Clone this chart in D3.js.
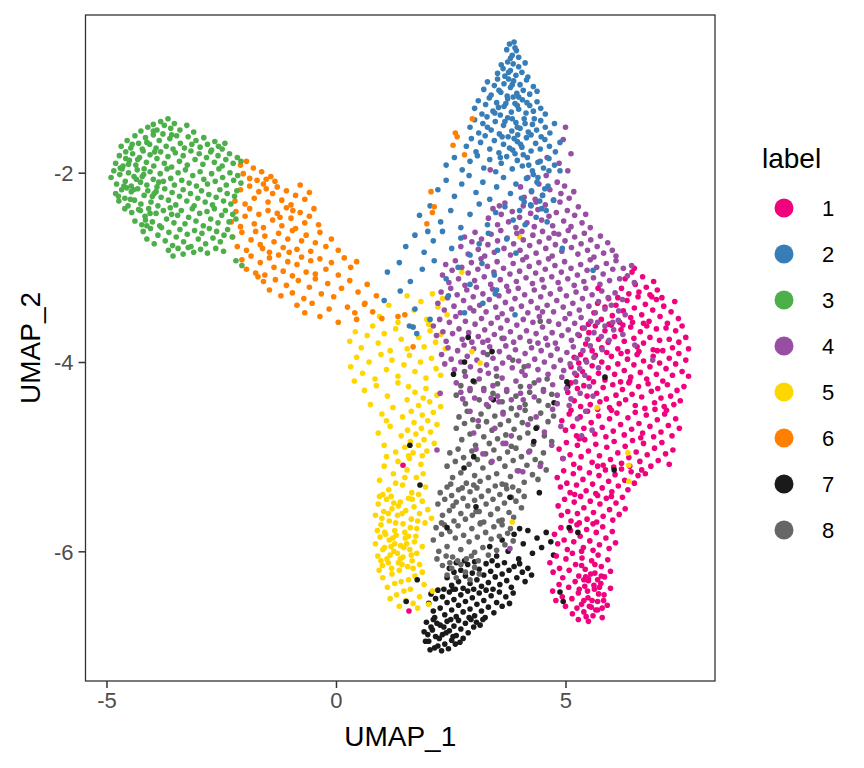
<!DOCTYPE html>
<html>
<head>
<meta charset="utf-8">
<script src="https://cdn.jsdelivr.net/npm/d3@7"></script>
<style>
  body { margin: 0; background: #fff; }
  text { font-family: "Liberation Sans", Arial, sans-serif; }
</style>
</head>
<body>
<div id="chart"></div>
<script>
// UMAP coordinates, one string per cluster label, "x,y" pairs
const pts1 = `6.22,-3.22 6.30,-3.12 6.38,-3.28 6.45,-3.05 6.52,-3.18 6.60,-3.26 6.68,-3.10 6.76,-3.21 6.84,-3.29 6.92,-3.15 7.00,-3.24 6.50,-3.01
5.62,-3.48 5.70,-3.38 5.78,-3.55 5.86,-3.42 5.94,-3.33 6.02,-3.51 6.10,-3.40 6.18,-3.58 6.26,-3.46 6.34,-3.35 6.42,-3.53 6.50,-3.43 6.58,-3.31 6.66,-3.50 6.74,-3.39 6.82,-3.57 6.90,-3.45 6.98,-3.34 7.06,-3.52 7.14,-3.41 7.22,-3.59 7.30,-3.47 7.38,-3.36 7.46,-3.54 6.46,-3.58 6.14,-3.32 6.88,-3.31 7.10,-3.32 5.95,-3.60 6.70,-3.59
5.30,-3.72 5.37,-3.64 5.44,-3.81 5.51,-3.69 5.58,-3.88 5.65,-3.62 5.72,-3.76 5.79,-3.85 5.86,-3.67 5.93,-3.79 6.00,-3.61 6.07,-3.73 6.14,-3.86 6.21,-3.66 6.28,-3.78 6.35,-3.89 6.42,-3.63 6.49,-3.75 6.56,-3.84 6.63,-3.68 6.70,-3.80 6.77,-3.62 6.84,-3.74 6.91,-3.87 6.98,-3.65 7.05,-3.77 7.12,-3.88 7.19,-3.64 7.26,-3.76 7.33,-3.85 7.40,-3.67 7.47,-3.79 7.54,-3.62 7.62,-3.74 7.68,-3.86 6.25,-3.61 6.60,-3.89 7.00,-3.88 5.90,-3.90 5.50,-3.60
5.12,-4.05 5.19,-3.95 5.24,-4.14 5.29,-4.01 5.33,-3.92 5.37,-4.10 5.44,-3.98 5.51,-4.17 5.58,-4.04 5.65,-3.93 5.72,-4.12 5.79,-4.00 5.86,-4.19 5.93,-4.06 6.00,-3.94 6.07,-4.13 6.14,-4.02 6.21,-3.91 6.28,-4.09 6.35,-3.97 6.42,-4.16 6.49,-4.03 6.56,-3.92 6.63,-4.11 6.70,-3.99 6.77,-4.18 6.84,-4.05 6.91,-3.94 6.98,-4.13 7.05,-4.01 7.12,-4.20 7.19,-4.07 7.26,-3.96 7.33,-4.14 7.40,-4.02 7.47,-3.91 7.54,-4.10 7.62,-3.98 7.68,-4.15 6.40,-4.20
5.05,-4.32 5.12,-4.22 5.19,-4.41 5.26,-4.28 5.33,-4.47 5.40,-4.25 5.47,-4.36 5.54,-4.45 5.61,-4.21 5.68,-4.33 5.75,-4.42 5.82,-4.27 5.89,-4.39 5.96,-4.48 6.03,-4.24 6.10,-4.35 6.17,-4.44 6.24,-4.29 6.31,-4.40 6.38,-4.22 6.45,-4.34 6.52,-4.46 6.59,-4.26 6.66,-4.37 6.73,-4.49 6.80,-4.23 6.87,-4.31 6.94,-4.43 7.01,-4.28 7.08,-4.38 7.15,-4.47 7.22,-4.24 7.29,-4.36 7.36,-4.45 7.43,-4.30 7.50,-4.41 7.58,-4.26 6.20,-4.21 6.95,-4.50 5.70,-4.50
4.92,-4.62 5.00,-4.72 5.08,-4.55 5.16,-4.68 5.24,-4.78 5.32,-4.58 5.40,-4.70 5.48,-4.52 5.56,-4.64 5.64,-4.76 5.72,-4.57 5.80,-4.69 5.88,-4.79 5.96,-4.60 6.04,-4.73 6.12,-4.54 6.20,-4.66 6.28,-4.77 6.36,-4.59 6.44,-4.71 6.52,-4.53 6.60,-4.65 6.68,-4.75 6.76,-4.56 6.84,-4.68 6.92,-4.79 7.00,-4.61 7.08,-4.74 7.16,-4.55 7.24,-4.67 7.32,-4.78 7.40,-4.60 7.48,-4.70 6.00,-4.51 6.64,-4.80 5.36,-4.80 7.20,-4.51 5.12,-4.51
4.86,-4.92 4.94,-5.02 5.02,-4.85 5.10,-4.98 5.18,-5.08 5.26,-4.88 5.34,-5.00 5.42,-4.82 5.50,-4.94 5.58,-5.06 5.66,-4.87 5.74,-4.99 5.82,-5.09 5.90,-4.90 5.98,-5.03 6.06,-4.84 6.14,-4.96 6.22,-5.07 6.30,-4.89 6.38,-5.01 6.46,-4.83 6.54,-4.95 6.62,-5.05 6.70,-4.86 6.78,-4.98 6.86,-5.10 6.94,-4.91 7.02,-5.04 7.10,-4.85 7.18,-4.97 7.26,-5.08 7.34,-4.93 5.70,-5.10 6.40,-5.10 5.30,-4.81
4.82,-5.22 4.89,-5.32 4.96,-5.15 5.03,-5.28 5.10,-5.38 5.17,-5.18 5.24,-5.30 5.31,-5.12 5.38,-5.24 5.45,-5.36 5.52,-5.17 5.59,-5.29 5.66,-5.39 5.73,-5.20 5.80,-5.33 5.87,-5.14 5.94,-5.26 6.01,-5.37 6.08,-5.19 6.15,-5.31 6.22,-5.13 6.29,-5.25 6.36,-5.35 6.43,-5.16 6.50,-5.28 6.58,-5.20 6.66,-5.14 6.74,-5.18 5.20,-5.40 6.05,-5.11
4.84,-5.52 4.91,-5.62 4.98,-5.45 5.05,-5.58 5.12,-5.68 5.19,-5.48 5.26,-5.60 5.33,-5.42 5.40,-5.54 5.47,-5.66 5.54,-5.47 5.61,-5.59 5.68,-5.69 5.75,-5.50 5.82,-5.63 5.89,-5.44 5.96,-5.56 6.03,-5.67 6.10,-5.49 6.17,-5.61 6.24,-5.43 6.30,-5.55 5.30,-5.70 5.70,-5.41 6.00,-5.42
4.76,-5.82 4.83,-5.92 4.90,-5.75 4.97,-5.88 5.04,-5.98 5.11,-5.78 5.18,-5.90 5.25,-5.72 5.32,-5.84 5.39,-5.96 5.46,-5.77 5.53,-5.89 5.60,-5.99 5.67,-5.80 5.74,-5.93 5.81,-5.74 5.88,-5.86 5.95,-5.97 6.02,-5.79 6.09,-5.91 5.35,-6.00 5.60,-5.71
4.66,-6.12 4.73,-6.22 4.80,-6.05 4.87,-6.18 4.94,-6.28 5.01,-6.08 5.08,-6.20 5.15,-6.02 5.22,-6.14 5.29,-6.26 5.36,-6.07 5.43,-6.19 5.50,-6.29 5.57,-6.10 5.64,-6.23 5.71,-6.04 5.78,-6.16 5.85,-6.27 5.92,-6.09 5.98,-6.21 5.40,-6.30 5.70,-6.30
4.72,-6.42 4.79,-6.52 4.86,-6.35 4.93,-6.48 5.00,-6.58 5.07,-6.38 5.14,-6.50 5.21,-6.32 5.28,-6.44 5.35,-6.56 5.42,-6.37 5.49,-6.49 5.56,-6.59 5.63,-6.40 5.70,-6.53 5.77,-6.34 5.84,-6.46 5.91,-6.57 5.98,-6.39 5.50,-6.31 5.80,-6.60 5.25,-6.60
5.15,-6.66 5.28,-6.72 5.40,-6.64 5.50,-6.74 5.60,-6.68 5.70,-6.62 5.80,-6.70 5.45,-6.69
5.35,-6.15 5.55,-6.24 5.62,-6.36 5.72,-6.45 5.48,-6.42 5.58,-6.52 5.66,-6.62 5.40,-6.52 5.52,-6.58 5.78,-6.26 5.30,-6.40 5.74,-6.38 5.44,-6.27 5.64,-6.14 5.83,-6.52
1.46,-5.09 1.59,-6.63 5.71,-3.22`;

const pts2 = `3.72,-0.70 3.78,-0.64 3.84,-0.76 3.88,-0.62 3.93,-0.71 3.98,-0.78 3.80,-0.79 3.90,-0.68
3.52,-0.95 3.60,-0.86 3.68,-0.98 3.74,-0.83 3.80,-0.92 3.86,-0.85 3.92,-0.97 3.98,-0.88 4.05,-0.94 4.12,-0.84 4.18,-0.99 3.64,-0.90
3.22,-1.12 3.30,-1.04 3.38,-1.18 3.45,-1.08 3.52,-1.01 3.59,-1.15 3.66,-1.06 3.73,-1.19 3.80,-1.10 3.87,-1.03 3.94,-1.16 4.01,-1.07 4.08,-1.13 4.15,-1.02 4.22,-1.17 4.30,-1.09 4.38,-1.14 3.76,-1.01
3.02,-1.32 3.10,-1.24 3.18,-1.38 3.26,-1.28 3.34,-1.21 3.42,-1.35 3.50,-1.26 3.58,-1.39 3.66,-1.30 3.74,-1.22 3.82,-1.36 3.90,-1.27 3.98,-1.33 4.06,-1.23 4.14,-1.37 4.22,-1.29 4.30,-1.35 4.38,-1.25 4.46,-1.32 4.56,-1.38 3.86,-1.20 3.54,-1.31
2.92,-1.52 3.02,-1.44 3.11,-1.58 3.20,-1.48 3.29,-1.41 3.38,-1.55 3.47,-1.46 3.56,-1.59 3.65,-1.50 3.74,-1.42 3.83,-1.56 3.92,-1.47 4.01,-1.53 4.10,-1.43 4.19,-1.57 4.28,-1.49 4.37,-1.55 4.46,-1.45 4.56,-1.52 4.66,-1.58 4.76,-1.48 3.96,-1.60
2.84,-1.72 2.95,-1.64 3.05,-1.78 3.15,-1.68 3.25,-1.61 3.35,-1.75 3.45,-1.66 3.55,-1.79 3.65,-1.70 3.75,-1.62 3.85,-1.76 3.95,-1.67 4.05,-1.73 4.15,-1.63 4.25,-1.77 4.35,-1.69 4.45,-1.75 4.55,-1.65 4.65,-1.72 4.78,-1.78 4.88,-1.68 3.90,-1.80
2.40,-1.92 2.58,-1.84 2.75,-1.97 2.92,-1.88 3.08,-1.82 3.22,-1.95 3.35,-1.86 3.48,-1.99 3.60,-1.90 3.72,-1.83 3.84,-1.96 3.95,-1.87 4.06,-1.93 4.17,-1.84 4.28,-1.98 4.40,-1.89 4.52,-1.95 4.64,-1.85 4.76,-1.92 4.88,-1.98
2.22,-2.18 2.40,-2.08 2.58,-2.25 2.74,-2.12 2.90,-2.03 3.05,-2.21 3.20,-2.10 3.35,-2.28 3.50,-2.15 3.65,-2.05 3.80,-2.22 3.92,-2.12 4.04,-2.27 4.15,-2.06 4.26,-2.19 4.38,-2.10 4.50,-2.24 4.62,-2.14 4.74,-2.29 4.30,-2.02
1.82,-2.45 2.05,-2.35 2.28,-2.52 2.50,-2.40 2.72,-2.58 2.92,-2.44 3.12,-2.33 3.30,-2.55 3.48,-2.42 3.68,-2.36 3.86,-2.50 4.00,-2.40 4.12,-2.55 4.24,-2.34 4.36,-2.47 4.48,-2.38 4.60,-2.52 4.10,-2.31
1.52,-2.78 1.72,-2.66 1.92,-2.84 2.12,-2.72 2.32,-2.62 2.52,-2.80 2.72,-2.69 2.92,-2.87 3.12,-2.75 3.32,-2.64 3.52,-2.82 3.72,-2.70 3.92,-2.85 2.00,-2.62
1.12,-3.05 1.38,-2.95 1.62,-3.15 1.88,-3.02 2.14,-2.93 2.40,-3.12 2.66,-3.00 2.92,-3.18 3.18,-2.96 3.45,-3.08
1.05,-3.35 1.40,-3.25 1.60,-3.62 1.72,-3.44 2.05,-3.55 2.45,-3.30 2.80,-3.48 3.20,-3.38
5.60,-3.03 4.93,-2.80 3.50,-3.24 3.90,-3.50 1.68,-3.63 1.76,-3.70 3.47,-3.28
3.55,-1.13 3.70,-1.27 3.84,-1.43 3.98,-1.20 4.12,-1.48 4.25,-1.60 3.62,-1.62 3.78,-1.74 3.95,-1.52 4.08,-1.81 4.20,-1.92 3.46,-1.37 3.68,-1.46 3.88,-1.64 4.02,-1.70 4.32,-1.43 4.45,-1.88 4.40,-2.05 4.55,-2.17 4.25,-2.35 4.47,-1.62 3.84,-1.07 3.95,-1.29 4.16,-1.26 3.76,-0.94 3.58,-1.84 3.30,-1.52 4.58,-2.40 4.44,-2.30 4.64,-1.98`;

const pts3 = `-4.25,-1.56 -4.10,-1.52 -3.98,-1.49 -3.90,-1.55 -3.82,-1.46 -3.74,-1.50 -3.66,-1.43 -3.60,-1.53 -3.52,-1.48 -3.40,-1.55 -3.25,-1.50 -3.10,-1.57
-4.68,-1.72 -4.55,-1.66 -4.47,-1.74 -4.38,-1.61 -4.30,-1.69 -4.22,-1.75 -4.15,-1.63 -4.06,-1.70 -3.98,-1.60 -3.92,-1.74 -3.85,-1.66 -3.77,-1.59 -3.70,-1.72 -3.62,-1.64 -3.55,-1.75 -3.47,-1.61 -3.39,-1.69 -3.30,-1.74 -3.22,-1.62 -3.14,-1.70 -3.05,-1.66 -2.96,-1.73 -2.88,-1.63 -2.80,-1.70 -2.71,-1.76 -2.64,-1.67 -2.56,-1.72 -2.48,-1.75 -2.42,-1.69 -3.58,-1.60
-4.80,-1.90 -4.72,-1.82 -4.64,-1.93 -4.58,-1.78 -4.50,-1.87 -4.43,-1.80 -4.36,-1.92 -4.28,-1.84 -4.20,-1.77 -4.13,-1.89 -4.05,-1.81 -3.97,-1.93 -3.90,-1.85 -3.82,-1.78 -3.74,-1.90 -3.66,-1.83 -3.58,-1.94 -3.50,-1.79 -3.41,-1.88 -3.33,-1.82 -3.24,-1.92 -3.16,-1.77 -3.07,-1.86 -2.98,-1.80 -2.90,-1.91 -2.82,-1.84 -2.73,-1.78 -2.65,-1.89 -2.57,-1.82 -2.48,-1.93 -2.40,-1.86 -2.32,-1.80 -2.24,-1.90 -2.15,-1.84 -2.07,-1.88
-4.90,-2.05 -4.84,-1.98 -4.78,-2.12 -4.71,-2.02 -4.66,-1.96 -4.59,-2.09 -4.52,-2.00 -4.46,-2.14 -4.40,-2.04 -4.33,-1.97 -4.26,-2.10 -4.19,-2.02 -4.12,-2.13 -4.05,-1.99 -3.98,-2.07 -3.90,-2.15 -3.83,-2.01 -3.76,-2.09 -3.68,-1.96 -3.60,-2.06 -3.52,-2.13 -3.44,-2.00 -3.36,-2.08 -3.28,-1.97 -3.20,-2.11 -3.12,-2.03 -3.04,-2.14 -2.96,-1.99 -2.88,-2.07 -2.80,-2.12 -2.71,-2.01 -2.63,-2.09 -2.55,-1.96 -2.47,-2.05 -2.39,-2.13 -2.31,-2.00 -2.23,-2.08 -2.14,-2.03 -2.07,-2.11 -4.62,-2.14
-4.80,-2.22 -4.73,-2.30 -4.67,-2.18 -4.60,-2.27 -4.53,-2.35 -4.46,-2.20 -4.39,-2.29 -4.32,-2.17 -4.25,-2.33 -4.18,-2.24 -4.10,-2.19 -4.03,-2.31 -3.96,-2.22 -3.88,-2.35 -3.81,-2.26 -3.73,-2.17 -3.65,-2.29 -3.57,-2.21 -3.49,-2.34 -3.41,-2.25 -3.33,-2.18 -3.25,-2.30 -3.17,-2.22 -3.09,-2.35 -3.01,-2.27 -2.93,-2.19 -2.85,-2.31 -2.77,-2.23 -2.69,-2.34 -2.61,-2.26 -2.53,-2.18 -2.45,-2.30 -2.37,-2.22 -2.29,-2.33 -2.21,-2.25 -2.16,-2.19 -4.56,-2.16 -3.92,-2.20
-4.45,-2.42 -4.38,-2.51 -4.30,-2.39 -4.23,-2.55 -4.16,-2.46 -4.08,-2.38 -4.00,-2.52 -3.92,-2.43 -3.84,-2.56 -3.76,-2.40 -3.69,-2.49 -3.61,-2.37 -3.53,-2.53 -3.45,-2.45 -3.37,-2.40 -3.29,-2.54 -3.21,-2.47 -3.13,-2.38 -3.05,-2.51 -2.97,-2.43 -2.89,-2.56 -2.81,-2.41 -2.73,-2.49 -2.65,-2.38 -2.57,-2.53 -2.49,-2.45 -2.41,-2.40 -2.33,-2.52 -2.25,-2.44 -2.18,-2.49 -4.12,-2.56 -3.58,-2.44
-4.20,-2.62 -4.12,-2.70 -4.04,-2.59 -3.96,-2.75 -3.88,-2.66 -3.80,-2.58 -3.72,-2.72 -3.64,-2.63 -3.56,-2.77 -3.48,-2.68 -3.40,-2.60 -3.32,-2.73 -3.24,-2.65 -3.16,-2.78 -3.08,-2.61 -3.00,-2.70 -2.92,-2.64 -2.84,-2.75 -2.76,-2.59 -2.68,-2.69 -2.60,-2.62 -2.52,-2.73 -2.44,-2.66 -2.36,-2.60 -2.26,-2.68
-3.65,-2.82 -3.55,-2.88 -3.44,-2.80 -3.33,-2.86 -3.22,-2.79 -3.10,-2.84 -2.95,-2.81 -2.80,-2.85 -2.62,-2.80 -2.45,-2.83 -2.18,-2.93 -2.05,-2.98
-4.70,-1.95 -4.52,-1.91 -4.35,-2.07 -4.44,-1.70 -4.18,-1.96 -4.00,-2.25 -4.26,-2.40 -4.60,-2.38 -4.48,-2.28 -4.12,-1.68 -3.95,-1.78 -4.32,-1.86 -4.74,-2.25 -4.05,-2.43 -3.86,-2.10 -4.41,-2.18 -4.22,-2.04 -3.98,-1.56 -4.58,-1.85 -4.15,-2.50`;

const pts4 = `4.02,-2.15 4.10,-2.26 4.18,-2.05 4.26,-2.20 4.34,-2.28 4.42,-2.12 4.50,-2.24 4.58,-2.03 4.66,-2.18 4.74,-2.29 4.82,-2.10 4.90,-2.22 4.98,-2.14 5.08,-2.27 5.18,-2.20
5.00,-1.52 4.95,-1.65 5.12,-1.80 4.86,-1.90 5.05,-1.98 4.60,-1.84 3.36,-1.97
3.32,-2.48 3.42,-2.38 3.52,-2.55 3.60,-2.44 3.68,-2.32 3.76,-2.52 3.84,-2.41 3.92,-2.58 4.00,-2.47 4.08,-2.35 4.16,-2.53 4.24,-2.43 4.32,-2.57 4.40,-2.39 4.48,-2.50 4.56,-2.34 4.64,-2.46 4.72,-2.56 4.80,-2.42 4.88,-2.31 4.96,-2.51 5.04,-2.40 5.12,-2.57 5.20,-2.45 5.28,-2.36 5.36,-2.53 5.44,-2.44 5.54,-2.58 4.36,-2.31 3.56,-2.35
2.72,-2.78 2.80,-2.68 2.88,-2.86 2.96,-2.73 3.03,-2.63 3.10,-2.81 3.17,-2.70 3.24,-2.88 3.31,-2.76 3.38,-2.65 3.45,-2.84 3.52,-2.72 3.59,-2.61 3.66,-2.80 3.73,-2.69 3.80,-2.87 3.87,-2.75 3.94,-2.64 4.01,-2.82 4.08,-2.71 4.15,-2.89 4.22,-2.77 4.29,-2.66 4.36,-2.85 4.43,-2.73 4.50,-2.62 4.57,-2.80 4.64,-2.69 4.71,-2.88 4.78,-2.76 4.85,-2.65 4.92,-2.83 4.99,-2.72 5.06,-2.61 5.13,-2.79 5.20,-2.68 5.27,-2.86 5.34,-2.75 5.41,-2.64 5.48,-2.82 5.55,-2.71 5.62,-2.89 5.69,-2.78 5.76,-2.67 5.83,-2.85 5.92,-2.74 6.02,-2.82 6.10,-2.88 4.05,-2.62 4.75,-2.64
2.32,-3.08 2.39,-2.97 2.46,-3.16 2.53,-3.03 2.60,-2.93 2.67,-3.12 2.74,-3.00 2.81,-3.19 2.88,-3.06 2.95,-2.95 3.02,-3.14 3.09,-3.02 3.16,-2.91 3.23,-3.10 3.30,-2.99 3.37,-3.18 3.44,-3.05 3.51,-2.94 3.58,-3.13 3.65,-3.01 3.72,-3.20 3.79,-3.07 3.86,-2.96 3.93,-3.15 4.00,-3.04 4.07,-2.92 4.14,-3.11 4.21,-2.99 4.28,-3.17 4.35,-3.06 4.42,-2.95 4.49,-3.13 4.56,-3.02 4.63,-2.91 4.70,-3.10 4.77,-2.98 4.84,-3.16 4.91,-3.05 4.98,-2.94 5.05,-3.12 5.12,-3.01 5.19,-3.19 5.26,-3.08 5.33,-2.97 5.40,-3.15 5.47,-3.03 5.54,-2.92 5.61,-3.11 5.68,-3.00 5.75,-3.18 5.82,-3.07 5.89,-2.96 5.96,-3.14 6.03,-3.02 6.10,-2.93 6.18,-3.12 6.26,-3.01 6.35,-3.09 6.44,-2.98 6.50,-3.16
2.22,-3.38 2.29,-3.26 2.36,-3.45 2.43,-3.32 2.50,-3.22 2.57,-3.41 2.64,-3.29 2.71,-3.48 2.78,-3.35 2.85,-3.24 2.92,-3.43 2.99,-3.31 3.06,-3.21 3.13,-3.40 3.20,-3.28 3.27,-3.47 3.34,-3.34 3.41,-3.23 3.48,-3.42 3.55,-3.30 3.62,-3.49 3.69,-3.37 3.76,-3.25 3.83,-3.44 3.90,-3.33 3.97,-3.22 4.04,-3.41 4.11,-3.29 4.18,-3.48 4.25,-3.36 4.32,-3.24 4.39,-3.43 4.46,-3.31 4.53,-3.21 4.60,-3.40 4.67,-3.28 4.74,-3.47 4.81,-3.35 4.88,-3.23 4.95,-3.42 5.02,-3.30 5.09,-3.49 5.16,-3.38 5.23,-3.26 5.30,-3.45 5.37,-3.33 5.44,-3.22 5.51,-3.41 5.58,-3.29 5.65,-3.48 5.72,-3.36 5.79,-3.25 5.86,-3.44 5.93,-3.32 6.00,-3.40 6.08,-3.27 6.16,-3.46 6.24,-3.34 3.00,-3.46 4.50,-3.47
2.12,-3.62 2.19,-3.72 2.26,-3.55 2.33,-3.68 2.40,-3.78 2.47,-3.58 2.54,-3.70 2.61,-3.52 2.68,-3.65 2.75,-3.76 2.82,-3.57 2.89,-3.69 2.96,-3.79 3.03,-3.60 3.10,-3.73 3.17,-3.54 3.24,-3.66 3.31,-3.77 3.38,-3.59 3.45,-3.71 3.52,-3.53 3.59,-3.64 3.66,-3.75 3.73,-3.56 3.80,-3.68 3.87,-3.79 3.94,-3.61 4.01,-3.74 4.08,-3.55 4.15,-3.67 4.22,-3.78 4.29,-3.58 4.36,-3.70 4.43,-3.52 4.50,-3.63 4.57,-3.75 4.64,-3.57 4.71,-3.69 4.78,-3.80 4.85,-3.60 4.92,-3.72 4.99,-3.54 5.06,-3.66 5.13,-3.77 5.20,-3.59 5.27,-3.71 5.34,-3.53 5.41,-3.64 5.48,-3.76 5.55,-3.57 5.62,-3.69 5.70,-3.58 5.78,-3.73 5.86,-3.62 5.95,-3.77 6.05,-3.66 6.15,-3.56 6.25,-3.71 3.20,-3.79 4.40,-3.80
2.30,-3.92 2.37,-4.02 2.44,-3.85 2.51,-3.97 2.58,-4.08 2.65,-3.88 2.72,-4.00 2.79,-3.82 2.86,-3.94 2.93,-4.05 3.00,-3.86 3.07,-3.98 3.14,-4.09 3.21,-3.90 3.28,-4.03 3.35,-3.84 3.42,-3.96 3.49,-4.07 3.56,-3.89 3.63,-4.01 3.70,-3.83 3.77,-3.95 3.84,-4.06 3.91,-3.87 3.98,-3.99 4.05,-4.10 4.12,-3.91 4.19,-4.04 4.26,-3.85 4.33,-3.97 4.40,-4.08 4.47,-3.88 4.54,-4.00 4.61,-3.82 4.68,-3.93 4.75,-4.05 4.82,-3.86 4.89,-3.98 4.96,-4.09 5.03,-3.90 5.10,-4.02 5.17,-3.84 5.24,-3.96 5.31,-4.07 5.38,-3.88 5.46,-4.00 5.54,-3.83 5.62,-3.95 5.72,-4.06 5.80,-3.87
2.62,-4.22 2.72,-4.32 2.82,-4.15 2.92,-4.28 3.02,-4.38 3.12,-4.18 3.22,-4.30 3.32,-4.12 3.42,-4.25 3.52,-4.36 3.62,-4.17 3.72,-4.29 3.82,-4.40 3.92,-4.20 4.02,-4.33 4.12,-4.14 4.22,-4.26 4.32,-4.37 4.42,-4.19 4.52,-4.31 4.62,-4.13 4.72,-4.24 4.82,-4.35 4.92,-4.16 5.02,-4.28 5.12,-4.39 5.22,-4.21 5.32,-4.33 5.42,-4.14 5.52,-4.26 5.60,-4.36 3.38,-4.38 4.08,-4.40 2.76,-4.39 5.20,-4.12
2.92,-4.52 3.10,-4.62 3.28,-4.45 3.46,-4.70 3.64,-4.55 3.82,-4.78 4.00,-4.48 4.18,-4.66 4.36,-4.58 4.54,-4.74 4.72,-4.50 4.90,-4.68 5.08,-4.46 5.26,-4.60 5.44,-4.52 5.58,-4.72 3.55,-4.42 4.82,-4.44 5.35,-4.78 3.00,-4.75
3.05,-4.92 3.40,-5.05 3.70,-4.86 3.95,-5.15 4.20,-4.95 4.45,-5.10 4.70,-4.88 4.95,-5.02
6.30,-3.50 6.51,-3.82 6.90,-3.98 6.03,-3.58 2.20,-4.93 2.27,-4.33 3.64,-4.86 3.20,-4.97 4.07,-5.16 3.79,-5.97`;

const pts5 = `0.95,-3.52 1.15,-3.40 1.35,-3.58 1.55,-3.30 1.70,-3.45 1.85,-3.36 1.98,-3.55 2.10,-3.28 2.22,-3.42 2.32,-3.33 2.42,-3.50 2.02,-3.60 4.00,-2.68 2.74,-3.05
0.30,-3.78 0.42,-3.68 0.55,-3.85 0.68,-3.72 0.80,-3.62 0.92,-3.80 1.05,-3.70 1.18,-3.88 1.30,-3.65 1.42,-3.76 1.55,-3.86 1.68,-3.63 1.80,-3.74 1.92,-3.84 2.05,-3.67 2.17,-3.79 2.28,-3.71 2.38,-3.86
0.32,-4.05 0.45,-3.95 0.58,-4.12 0.72,-4.00 0.85,-4.18 0.98,-3.92 1.10,-4.08 1.22,-3.98 1.35,-4.15 1.48,-4.03 1.60,-3.93 1.72,-4.10 1.84,-4.00 1.96,-4.17 2.08,-3.96 2.18,-4.07 2.28,-4.14 0.40,-4.20
0.62,-4.30 0.75,-4.45 0.88,-4.25 1.00,-4.55 1.12,-4.36 1.24,-4.48 1.35,-4.22 1.45,-4.58 1.55,-4.40 1.64,-4.52 1.72,-4.32 1.80,-4.46 1.88,-4.56 1.96,-4.28 2.04,-4.42 2.12,-4.53 2.20,-4.35 2.28,-4.47 1.58,-4.26 1.90,-4.38
0.92,-4.75 1.05,-4.88 1.18,-4.68 1.30,-4.95 1.42,-4.78 1.50,-4.90 1.56,-4.72 1.62,-4.84 1.68,-4.96 1.74,-4.76 1.80,-4.88 1.86,-4.70 1.92,-4.82 1.98,-4.94 2.06,-4.74 2.14,-4.86 2.20,-4.66 1.10,-4.62 1.70,-4.64 1.58,-4.99 1.88,-4.99 2.00,-4.62
0.95,-5.25 1.05,-5.10 1.15,-5.35 1.25,-5.18 1.35,-5.05 1.45,-5.30 1.55,-5.14 1.65,-5.38 1.75,-5.22 1.85,-5.08 1.95,-5.32 1.02,-5.40 1.30,-5.28 1.60,-5.02 1.80,-5.40 1.50,-5.22 1.10,-5.00 1.90,-5.18
0.86,-5.62 0.92,-5.50 0.98,-5.72 1.04,-5.58 1.10,-5.45 1.16,-5.68 1.22,-5.55 1.28,-5.78 1.34,-5.62 1.40,-5.48 1.46,-5.71 1.52,-5.57 1.58,-5.44 1.64,-5.66 1.70,-5.53 1.76,-5.76 1.82,-5.60 1.88,-5.47 1.94,-5.70 2.00,-5.56 2.08,-5.65 0.90,-5.78 1.06,-5.80 1.20,-5.42 1.36,-5.52 1.50,-5.80 1.66,-5.45 1.78,-5.68 0.95,-5.42 1.14,-5.60 1.30,-5.70 1.44,-5.60 1.62,-5.75 1.26,-5.49 1.00,-5.65
0.86,-5.92 0.91,-6.05 0.96,-5.85 1.01,-6.15 1.06,-5.96 1.11,-6.08 1.16,-5.88 1.21,-6.18 1.26,-6.00 1.31,-5.83 1.36,-6.12 1.41,-5.94 1.46,-6.06 1.51,-5.86 1.56,-6.16 1.61,-5.98 1.66,-6.10 1.71,-5.90 1.76,-6.02 1.82,-6.14 1.88,-5.95 0.94,-6.20 1.08,-5.82 1.18,-6.04 1.28,-5.92 1.38,-6.20 1.48,-5.96 1.58,-5.84 1.68,-6.18 1.02,-5.98 1.14,-6.12 1.24,-5.86 1.34,-6.02 1.44,-6.14 1.54,-5.92 1.64,-6.04 1.74,-5.84 0.98,-6.10 1.20,-5.95 1.40,-6.08
1.02,-6.28 1.12,-6.38 1.22,-6.24 1.32,-6.46 1.42,-6.32 1.52,-6.52 1.62,-6.40 1.72,-6.26 1.82,-6.48 1.92,-6.35 2.02,-6.56 2.10,-6.42 1.18,-6.50 1.38,-6.58 1.58,-6.30 1.78,-6.60 1.28,-6.34 1.48,-6.42 1.68,-6.55 1.88,-6.22
5.69,-4.48 6.36,-4.96 6.38,-5.09 6.38,-5.26 3.84,-5.69 2.96,-3.89 3.14,-4.01`;

const pts6 = `-2.08,-1.92 -2.02,-2.01 -1.95,-1.88 -1.88,-2.06 -1.80,-1.95 -1.72,-2.08 -1.62,-1.99 -1.52,-2.07 -1.42,-2.04 -1.33,-2.09
-2.20,-2.30 -2.08,-2.18 -1.98,-2.33 -1.88,-2.14 -1.78,-2.27 -1.68,-2.20 -1.58,-2.12 -1.48,-2.31 -1.38,-2.22 -1.28,-2.15 -1.18,-2.29 -1.08,-2.19 -0.98,-2.34 -0.88,-2.24 -0.78,-2.13 -0.68,-2.28 -0.58,-2.21 -1.52,-2.17
-2.28,-2.52 -2.18,-2.41 -2.08,-2.57 -1.98,-2.46 -1.88,-2.38 -1.78,-2.54 -1.68,-2.44 -1.58,-2.58 -1.48,-2.40 -1.38,-2.50 -1.28,-2.43 -1.18,-2.56 -1.08,-2.37 -0.98,-2.48 -0.88,-2.59 -0.78,-2.42 -0.68,-2.53 -0.58,-2.46 -0.48,-2.38 -0.38,-2.55 -1.22,-2.47 -0.94,-2.40
-2.25,-2.68 -2.15,-2.78 -2.05,-2.63 -1.95,-2.82 -1.85,-2.71 -1.75,-2.62 -1.65,-2.76 -1.55,-2.67 -1.45,-2.84 -1.35,-2.73 -1.25,-2.64 -1.15,-2.79 -1.05,-2.70 -0.95,-2.61 -0.85,-2.81 -0.75,-2.72 -0.65,-2.66 -0.55,-2.83 -0.45,-2.74 -0.35,-2.63 -0.22,-2.78 -0.10,-2.70 0.05,-2.82 -1.60,-2.80 -1.02,-2.84
-2.05,-2.92 -1.95,-3.02 -1.85,-2.88 -1.75,-3.06 -1.65,-2.95 -1.55,-3.08 -1.45,-2.90 -1.35,-3.00 -1.25,-2.87 -1.15,-3.04 -1.05,-2.94 -0.95,-3.09 -0.85,-2.97 -0.75,-2.89 -0.65,-3.05 -0.55,-2.93 -0.45,-3.07 -0.35,-2.91 -0.22,-3.02 -0.10,-2.95 0.05,-3.08 0.18,-2.90 0.32,-3.00 0.45,-2.94 -1.70,-3.10
-1.58,-3.15 -1.45,-3.24 -1.32,-3.13 -1.20,-3.30 -1.08,-3.19 -0.95,-3.27 -0.82,-3.14 -0.70,-3.33 -0.58,-3.21 -0.45,-3.12 -0.32,-3.28 -0.18,-3.17 -0.05,-3.31 0.12,-3.22 0.30,-3.14 0.48,-3.26 0.68,-3.18 0.88,-3.30
-0.85,-3.40 -0.68,-3.48 -0.52,-3.38 -0.35,-3.52 -0.15,-3.44 0.05,-3.58 0.25,-3.42 0.45,-3.55 0.62,-3.39 0.80,-3.47
2.97,-1.43 2.60,-1.58 2.64,-1.62 2.55,-1.71 2.80,-1.81 2.07,-2.20 2.14,-2.36 2.10,-2.42 1.98,-2.54
0.41,-3.48 0.63,-3.38 1.00,-3.54 1.35,-3.52 1.50,-3.50 1.68,-3.84`;

const pts7 = `3.35,-5.95 3.50,-6.05 3.62,-5.88 3.75,-6.00 3.88,-5.82 3.98,-6.08 4.08,-5.92 4.18,-5.78 4.28,-6.02 4.38,-5.86 4.48,-5.96 4.58,-5.80 4.68,-5.90 4.74,-6.04 4.00,-5.76
2.42,-6.28 2.47,-6.18 2.52,-6.36 2.57,-6.22 2.62,-6.12 2.67,-6.32 2.72,-6.20 2.77,-6.39 2.82,-6.26 2.87,-6.14 2.92,-6.34 2.97,-6.23 3.02,-6.11 3.07,-6.30 3.12,-6.19 3.17,-6.37 3.22,-6.25 3.27,-6.13 3.32,-6.33 3.37,-6.21 3.42,-6.40 3.47,-6.27 3.52,-6.15 3.57,-6.35 3.62,-6.24 3.67,-6.12 3.72,-6.31 3.77,-6.20 3.82,-6.38 3.88,-6.16 3.94,-6.28 4.00,-6.13 4.06,-6.22 4.12,-6.32 4.18,-6.18 4.26,-6.25 2.60,-6.40 3.00,-6.40 3.40,-6.10 2.80,-6.10
2.02,-6.55 2.07,-6.45 2.12,-6.63 2.17,-6.50 2.22,-6.41 2.27,-6.60 2.32,-6.48 2.37,-6.67 2.42,-6.54 2.47,-6.43 2.52,-6.62 2.57,-6.51 2.62,-6.69 2.67,-6.57 2.72,-6.46 2.77,-6.64 2.82,-6.53 2.87,-6.42 2.92,-6.61 2.97,-6.49 3.02,-6.68 3.07,-6.56 3.12,-6.44 3.17,-6.63 3.22,-6.52 3.27,-6.41 3.32,-6.59 3.38,-6.47 3.44,-6.65 3.50,-6.54 3.56,-6.43 3.62,-6.58 3.70,-6.48 3.78,-6.55 3.86,-6.44 2.15,-6.70 2.55,-6.40 2.90,-6.70 3.25,-6.70 2.35,-6.40
1.92,-6.85 1.97,-6.75 2.02,-6.95 2.07,-6.80 2.12,-6.72 2.17,-6.90 2.22,-7.00 2.27,-6.78 2.32,-6.88 2.37,-6.98 2.42,-6.74 2.47,-6.84 2.52,-6.94 2.57,-6.79 2.62,-6.89 2.67,-6.73 2.72,-6.82 2.77,-6.92 2.82,-6.76 2.88,-6.86 2.94,-6.72 3.00,-6.80 3.06,-6.75 3.14,-6.78 3.20,-6.72 2.05,-7.04 2.15,-7.02 2.30,-7.05 2.45,-7.03 2.60,-6.98 2.00,-6.88 2.10,-6.83 2.25,-6.92 2.40,-6.86 2.55,-6.90 2.70,-6.96 2.35,-6.80 2.20,-6.76 1.95,-6.95 2.50,-6.72
2.88,-3.74 3.40,-3.89 2.80,-4.00 2.56,-4.13 2.99,-4.20 3.43,-4.40 5.03,-4.21 5.05,-4.26 4.75,-4.43 5.86,-4.16 4.36,-4.70 4.31,-4.84 3.00,-5.00 2.79,-5.12 1.83,-5.30 1.61,-4.88 6.06,-5.14 4.43,-5.38 5.08,-5.75 5.27,-5.80 4.88,-6.43 4.95,-6.53 1.53,-6.53 1.77,-6.30 2.42,-5.75 3.05,-5.53 3.79,-5.43`;

const pts8 = `3.62,-3.75 4.45,-3.57 3.85,-3.98 3.50,-4.15 4.10,-4.05 2.80,-4.10 3.30,-3.92 4.60,-4.18
2.62,-4.35 2.72,-4.25 2.82,-4.44 2.92,-4.30 3.02,-4.21 3.12,-4.40 3.22,-4.28 3.32,-4.47 3.42,-4.33 3.52,-4.23 3.62,-4.42 3.72,-4.31 3.82,-4.49 3.92,-4.36 4.02,-4.26 4.12,-4.45 4.22,-4.32 4.32,-4.22 4.42,-4.41 4.52,-4.29 4.62,-4.46 4.70,-4.34
2.62,-4.70 2.68,-4.58 2.74,-4.82 2.80,-4.65 2.86,-4.52 2.92,-4.76 2.98,-4.61 3.04,-4.88 3.10,-4.68 3.16,-4.55 3.22,-4.79 3.28,-4.63 3.34,-4.86 3.40,-4.72 3.46,-4.57 3.52,-4.81 3.58,-4.66 3.64,-4.53 3.70,-4.77 3.76,-4.62 3.82,-4.89 3.88,-4.71 3.94,-4.56 4.00,-4.80 4.06,-4.64 4.12,-4.51 4.18,-4.75 4.24,-4.60 4.30,-4.87 4.38,-4.69 4.46,-4.54 4.54,-4.78 4.62,-4.63 4.70,-4.84 4.74,-4.57
2.42,-5.10 2.48,-4.96 2.54,-5.22 2.60,-5.05 2.66,-4.92 2.72,-5.17 2.78,-5.01 2.84,-5.28 2.90,-5.08 2.96,-4.94 3.02,-5.20 3.08,-5.03 3.14,-5.26 3.20,-5.12 3.26,-4.97 3.32,-5.22 3.38,-5.06 3.44,-4.93 3.50,-5.18 3.56,-5.02 3.62,-5.29 3.68,-5.10 3.74,-4.95 3.80,-5.21 3.86,-5.04 3.92,-4.91 3.98,-5.15 4.04,-5.00 4.10,-5.27 4.16,-5.09 4.22,-4.94 4.28,-5.19 4.34,-5.03 4.40,-5.24 4.46,-5.07 4.52,-4.96 4.58,-5.14 2.50,-5.29 3.00,-5.30 3.70,-5.30
2.22,-5.50 2.27,-5.38 2.32,-5.62 2.37,-5.45 2.42,-5.32 2.47,-5.57 2.52,-5.41 2.57,-5.68 2.62,-5.48 2.67,-5.35 2.72,-5.60 2.77,-5.44 2.82,-5.66 2.87,-5.52 2.92,-5.37 2.97,-5.62 3.02,-5.46 3.07,-5.33 3.12,-5.58 3.17,-5.42 3.22,-5.69 3.27,-5.50 3.32,-5.36 3.37,-5.61 3.42,-5.45 3.47,-5.31 3.52,-5.55 3.57,-5.40 3.62,-5.67 3.67,-5.49 3.72,-5.34 3.77,-5.59 3.82,-5.43 3.87,-5.64 3.92,-5.47 3.98,-5.36 4.04,-5.54 4.10,-5.42 2.30,-5.70 2.75,-5.33 3.15,-5.70 3.55,-5.68 2.55,-5.52 3.05,-5.58 3.85,-5.32
2.12,-5.88 2.18,-5.75 2.24,-6.00 2.30,-5.82 2.36,-5.72 2.42,-5.95 2.48,-5.79 2.54,-6.06 2.60,-5.86 2.66,-5.73 2.72,-5.98 2.78,-5.83 2.84,-6.08 2.90,-5.90 2.96,-5.76 3.02,-6.01 3.08,-5.85 3.14,-5.71 3.20,-5.96 3.26,-5.80 3.32,-6.04 3.38,-5.87 3.44,-5.74 3.50,-5.99 3.56,-5.84 3.62,-5.72 3.68,-5.93 3.74,-5.81 3.80,-5.76 3.86,-5.89 2.20,-6.08 2.65,-6.10 3.10,-6.10 2.40,-6.05 2.95,-6.05
2.32,-6.15 2.42,-6.25 2.52,-6.18 2.62,-6.28 2.72,-6.14 2.82,-6.22 2.92,-6.30 3.02,-6.17 3.12,-6.24 2.48,-6.12`;

const labels = ["1", "2", "3", "4", "5", "6", "7", "8"];
const colors = ["#F0027F", "#377EB8", "#4DAF4A", "#984EA3", "#FFD700", "#FF7F00", "#1A1A1A", "#666666"];
const xTicks = [-5, 0, 5];
const yTicks = [-6, -4, -2];

const W = 864, H = 768;
const panel = { left: 85.5, right: 715, top: 15, bottom: 681 };

const parse = s => s.trim().split(/\s+/).map(p => p.split(",").map(Number));
const clusters = [pts1, pts2, pts3, pts4, pts5, pts6, pts7, pts8].map(parse);

// interleave clusters so no colour is always on top
let points = [];
clusters.forEach((arr, ci) => {
  arr.forEach((p, i) => points.push({ x: p[0], y: p[1], c: ci, k: (i + 0.5) / arr.length }));
});
points.sort((a, b) => a.k - b.k || a.c - b.c);

const x = d3.scaleLinear().domain([-5.457, 8.257]).range([panel.left, panel.right]);
const y = d3.scaleLinear().domain([-7.37, -0.334]).range([panel.bottom, panel.top]);
const color = d3.scaleOrdinal().domain(labels).range(colors);

const svg = d3.select("#chart").append("svg")
  .attr("width", W).attr("height", H);

svg.append("g").selectAll("circle")
  .data(points).enter().append("circle")
    .attr("cx", d => x(d.x))
    .attr("cy", d => y(d.y))
    .attr("r", 2.8)
    .attr("fill", d => color(labels[d.c]));

svg.append("rect")
  .attr("x", panel.left).attr("y", panel.top)
  .attr("width", panel.right - panel.left).attr("height", panel.bottom - panel.top)
  .attr("fill", "none").attr("stroke", "#333333").attr("stroke-width", 1.3);

// plain hyphen minus like the original, not the unicode minus
const fmt = d => String(d);
const xAxis = svg.append("g")
  .attr("transform", "translate(0," + panel.bottom + ")")
  .call(d3.axisBottom(x).tickValues(xTicks).tickSize(7).tickPadding(4).tickFormat(fmt));
const yAxis = svg.append("g")
  .attr("transform", "translate(" + panel.left + ",0)")
  .call(d3.axisLeft(y).tickValues(yTicks).tickSize(7).tickPadding(5).tickFormat(fmt));

[xAxis, yAxis].forEach(g => {
  g.select(".domain").remove();
  g.selectAll(".tick line").attr("stroke", "#333333").attr("stroke-width", 1.5);
  g.selectAll(".tick text").attr("fill", "#4D4D4D").style("font-size", "22px")
    .style("font-family", '"Liberation Sans", Arial, sans-serif');
});
yAxis.selectAll(".tick text").attr("dy", "0.35em");
xAxis.selectAll(".tick text").attr("dy", "0.72em");

svg.append("text")
  .attr("x", (panel.left + panel.right) / 2).attr("y", 746)
  .attr("text-anchor", "middle").style("font-size", "28px").attr("fill", "#000")
  .text("UMAP_1");

svg.append("text")
  .attr("transform", "translate(40," + ((panel.top + panel.bottom) / 2) + ") rotate(-90)")
  .attr("text-anchor", "middle").style("font-size", "28px").attr("fill", "#000")
  .text("UMAP_2");

// legend
const legend = svg.append("g");
legend.append("text")
  .attr("x", 762).attr("y", 168)
  .style("font-size", "28px").attr("fill", "#000")
  .text("label");

const item = legend.selectAll(".item").data(labels).enter().append("g")
  .attr("class", "item")
  .attr("transform", (d, i) => "translate(784," + (208 + i * 46) + ")");
item.append("circle").attr("r", 9.5).attr("fill", d => color(d));
item.append("text")
  .attr("x", 38).attr("dy", "0.35em")
  .style("font-size", "22px").attr("fill", "#000")
  .text(d => d);
</script>
</body>
</html>
